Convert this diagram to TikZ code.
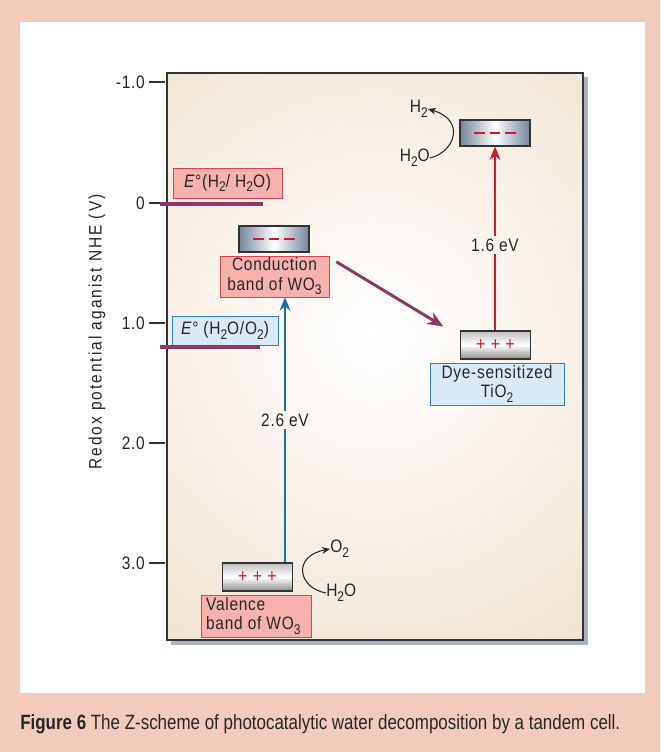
\documentclass[tikz,border=0pt]{standalone}
\usepackage{fontspec}
\setmainfont{Liberation Sans}[FakeStretch=0.86, LetterSpace=4]
\newfontfamily\axisfont{Liberation Sans}[FakeStretch=0.86, LetterSpace=11]
\newfontfamily\capfont{Liberation Sans}[FakeStretch=0.82]
\usetikzlibrary{arrows.meta, calc}
\definecolor{outerpink}{HTML}{F3CBBD}
\definecolor{plottan}{HTML}{EAD6BD}
\definecolor{shadowgray}{HTML}{A9B3C3}
\definecolor{labpink}{HTML}{F7B2B0}
\definecolor{labred}{HTML}{D9434A}
\definecolor{labblue}{HTML}{D9E9F6}
\definecolor{edgeblue}{HTML}{2F7FC0}
\definecolor{levelpurple}{HTML}{8C3864}
\definecolor{gapblue}{HTML}{1D6DB3}
\definecolor{gapred}{HTML}{D5172E}
\definecolor{bandgray}{HTML}{74849A}

\newcommand{\minusdashes}{\textcolor{gapred}{\rule[0pt]{8pt}{2pt}\hspace{3.5pt}\rule[0pt]{8pt}{2pt}\hspace{3.5pt}\rule[0pt]{8pt}{2pt}}}
\newcommand{\lowdigit}[1]{\raisebox{-0.5ex}{\fontsize{10.5}{10}\selectfont #1}}

\begin{document}
\begin{tikzpicture}[
    x=0.75pt, y=-0.75pt,
    every node/.style={font=\fontsize{13.5}{14.5}\selectfont, text=black!85},
    redlab/.style={draw=labred, fill=labpink, inner sep=0pt, align=center},
    bluelab/.style={draw=edgeblue, fill=labblue, inner sep=0pt, align=center},
    minusband/.style={draw=black!80, thick, left color=bandgray, right color=bandgray, middle color=white,
        minimum width=52.5pt, minimum height=19.5pt, inner sep=0pt},
    plusband/.style={draw=black!80, thick, top color=black!25, bottom color=black!45, middle color=white,
        minimum width=52pt, minimum height=21pt, inner sep=0pt, text=gapred, font=\fontsize{14}{14}\selectfont},
    level/.style={levelpurple, line width=3pt},
    tick/.style={black!80, thick},
    gaparrow/.style={line width=2.2pt, -{Stealth[length=10pt, width=8pt]}},
    swirl/.style={black!85, thick, -{Stealth[length=6pt, width=5pt]}}
]
\useasboundingbox (0,0) rectangle (660,752);
\fill[outerpink] (0,0) rectangle (660,752);
\fill[white] (20,22) rectangle (645,693);

% plot frame
\fill[shadowgray] (171,77) rectangle (588,645);
\begin{scope}
  \clip (167,73) rectangle (583,640);
  \shade[inner color=white, outer color=plottan] (375,335) circle (560);
\end{scope}
\draw[black!80, line width=1.2pt] (167,73) rectangle (583,640);

% axis
\foreach \yy/\txt in {82/-1.0, 203/0, 323/1.0, 443/2.0, 563/3.0}{
  \draw[tick] (149,\yy) -- (165,\yy);
  \node[anchor=east, inner sep=0pt] at (145,\yy) {\txt};
}
\node[rotate=90, font=\axisfont\fontsize{13.5}{14.5}\selectfont] (axislabel) at (97,332) {Redox potential aganist NHE (V)};

% redox levels
\node[redlab, minimum width=81.75pt, minimum height=22.5pt] (eh) at (227.5,183)
    {\textit{E}°(H\lowdigit{2}/ H\lowdigit{2}O)};
\draw[level] (160,204) -- (263,204);
\node[bluelab, minimum width=79.5pt, minimum height=21.75pt] (eo) at (225,330.5)
    {\textit{E}° (H\lowdigit{2}O/O\lowdigit{2})};
\draw[level] (160,347) -- (260,347);

% WO3
\node[minusband] (cb) at (274,239) {\minusdashes};
\node[redlab, minimum width=81.75pt, minimum height=30.75pt] (cblab) at (274.5,276.5)
    {Conduction\\band of WO\lowdigit{3}};
\node[plusband] (vb) at (257.5,577) {+ + +};
\node[redlab, minimum width=82.5pt, minimum height=31.5pt, align=left] (vblab) at (256,616)
    {Valence\\band of WO\lowdigit{3}\hspace*{4pt}};
\node[inner sep=2pt] (gapw) at (285,420) {2.6 eV};
\draw[gapblue, line width=2.2pt] (vb.north -| gapw) -- (gapw.south);
\draw[gapblue, gaparrow] (gapw.north) -- (cblab.south -| gapw);

\node[anchor=west, inner sep=0pt] (otwo) at (330,549) {O\lowdigit{2}};
\node[anchor=west, inner sep=0pt] (wone) at (326,593) {H\lowdigit{2}O};
\draw[swirl] (wone.west) .. controls (298,588) and (292,556) .. (otwo.west);

% dye-sensitized TiO2
\node[plusband] (tb) at (495.5,345) {+ + +};
\node[bluelab, minimum width=100.5pt, minimum height=31.5pt] (tblab) at (497,384)
    {Dye-sensitized\\TiO\lowdigit{2}};
\node[minusband] (tc) at (495,133) {\minusdashes};
\node[inner sep=2pt] (gapt) at (495,245) {1.6 eV};
\draw[gapred, line width=2.2pt] (tb.north -| gapt) -- (gapt.south);
\draw[gapred, gaparrow] (gapt.north) -- (tc.south -| gapt);

\node[anchor=east, inner sep=0pt] (htwo) at (428,109) {H\lowdigit{2}};
\node[anchor=east, inner sep=0pt] (wtwo) at (430,158) {H\lowdigit{2}O};
\draw[swirl] (wtwo.east) .. controls (455,152) and (466,120) .. (htwo.east);

% electron transfer
\draw[levelpurple, line width=2.2pt, -{Stealth[length=12pt, width=10pt]}]
    ($(cblab.north east)+(7,6)$) -- ($(tb.north west)+(-17,-4)$);

% caption
\node[anchor=base west, inner sep=0pt, font=\capfont\fontsize{15.5}{17}\selectfont, text=black!85] (caption) at (20,729)
    {\textbf{Figure 6} The Z-scheme of photocatalytic water decomposition by a tandem cell.};
\end{tikzpicture}
\end{document}
